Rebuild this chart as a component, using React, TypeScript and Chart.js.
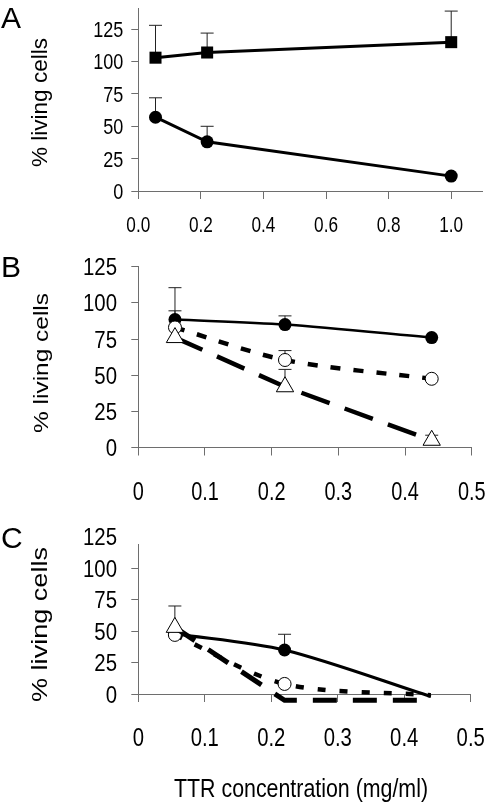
import React, { useEffect, useRef } from 'react';
import { Chart, registerables } from 'chart.js';
Chart.register(...registerables);

const SANS = '"Liberation Sans", Arial, sans-serif';

// ---------- data ----------
// Panel A
const concA = [0.055, 0.22, 1.0];
const aSquares = [103, 107, 115];
const aSquaresErr = [25, 15, 24];
const aCircles = [57, 38, 11.5];
const aCirclesErr = [15, 12, 0];

// Panels B and C share concentrations
const concBC = [0.055, 0.22, 0.44];

// Panel B
const bFilled = [88.5, 85, 76];
const bFilledErr = [22, 6, 0];
const bOpen = [83, 60.5, 47.5];
const bOpenErr = [11.5, 6.5, 0];
const bTri = [76, 42, 5];
const bTriErr = [0, 12, 3.5];

// Panel C
const cFilled = [48, 35, -2];
const cFilledErr = [0, 12.5, 0];
const cOpen = [47, 8, -1];
const cOpenErr = [0, 0, 0];
const cTri = [53, -5, -5];
const cTriErr = [17, 0, 0];

// ticks
const yTicks = [0, 25, 50, 75, 100, 125];
const xTicksA = [0, 0.2, 0.4, 0.6, 0.8, 1.0];
const xTicksBC = [0, 0.1, 0.2, 0.3, 0.4, 0.5];

const yTitle = '% living cells';
const xTitle = 'TTR concentration (mg/ml)';

const AXIS = '#6e6e6e';

const pts = (xs: number[], ys: number[]) => xs.map((x, i) => ({ x, y: ys[i] }));

function drawNarrow(
  ctx: CanvasRenderingContext2D,
  text: string,
  x: number,
  y: number,
  size: number,
  sx: number,
  align: CanvasTextAlign
) {
  ctx.save();
  ctx.translate(x, y);
  ctx.scale(sx, 1);
  ctx.font = `${size}px ${SANS}`;
  ctx.textAlign = align;
  ctx.textBaseline = 'alphabetic';
  ctx.fillStyle = '#000';
  ctx.fillText(text, 0, 0);
  ctx.restore();
}

// text stretched along its own direction to a target length
function drawFitted(
  ctx: CanvasRenderingContext2D,
  text: string,
  cx: number,
  cy: number,
  size: number,
  length: number,
  rotate: boolean,
  baseline: CanvasTextBaseline
) {
  ctx.save();
  ctx.font = `${size}px ${SANS}`;
  const w = ctx.measureText(text).width;
  ctx.translate(cx, cy);
  if (rotate) ctx.rotate(-Math.PI / 2);
  ctx.scale(length / w, 1);
  ctx.textAlign = 'center';
  ctx.textBaseline = baseline;
  ctx.fillStyle = '#000';
  ctx.fillText(text, 0, 0);
  ctx.restore();
}

const errorBarPlugin = {
  id: 'errorBars',
  beforeDatasetsDraw(chart: any) {
    const ctx = chart.ctx;
    const ys = chart.scales.y;
    chart.data.datasets.forEach((ds: any, di: number) => {
      if (!ds.errUp) return;
      const meta = chart.getDatasetMeta(di);
      ds.errUp.forEach((e: number, i: number) => {
        if (!e) return;
        const el = meta.data[i];
        const v = ds.data[i].y;
        const x = el.x;
        const y0 = ys.getPixelForValue(v);
        const y1 = ys.getPixelForValue(v + e);
        ctx.save();
        ctx.strokeStyle = '#222';
        ctx.lineWidth = 1;
        ctx.beginPath();
        ctx.moveTo(x, y0);
        ctx.lineTo(x, y1);
        ctx.moveTo(x - 6.5, y1);
        ctx.lineTo(x + 6.5, y1);
        ctx.stroke();
        ctx.restore();
      });
    });
  },
};

type Panel = {
  area: { left: number; right: number; top: number; bottom: number };
  yMax: number;
  xMax: number;
  xTicks: number[];
  xFmt: (v: number) => string;
  xFont: number;
  xSx: number;
  xBase: number;
  yFont: number;
  ySx: number;
  yRight: number;
  letter: string;
  letterY: number;
  title: { cx: number; cy: number; size: number; len: number };
  showXTitle: boolean;
  datasets: any[];
};

const YW = 60;
const XH = 60;

function makeChart(canvas: HTMLCanvasElement, p: Panel) {
  const textPlugin = {
    id: 'texts' + p.letter,
    afterDraw(chart: any) {
      const ctx = chart.ctx;
      const xs = chart.scales.x;
      const ys = chart.scales.y;
      xs.ticks.forEach((t: any) => {
        drawNarrow(ctx, p.xFmt(t.value), xs.getPixelForValue(t.value), p.xBase, p.xFont, p.xSx, 'center');
      });
      ys.ticks.forEach((t: any) => {
        drawNarrow(ctx, String(t.value), p.yRight, ys.getPixelForValue(t.value) + 0.358 * p.yFont, p.yFont, p.ySx, 'right');
      });
      ctx.save();
      ctx.fillStyle = '#000';
      ctx.font = '30px ' + SANS;
      ctx.textAlign = 'left';
      ctx.textBaseline = 'alphabetic';
      ctx.fillText(p.letter, 1, p.letterY);
      ctx.restore();
      drawFitted(ctx, yTitle, p.title.cx, p.title.cy, p.title.size, p.title.len, true, 'middle');
      if (p.showXTitle) {
        drawFitted(ctx, xTitle, 301, 796.7, 25.6, 254, false, 'alphabetic');
      }
    },
  };

  return new Chart(canvas, {
    type: 'line',
    data: { datasets: p.datasets },
    options: {
      responsive: false,
      animation: false,
      events: [],
      layout: {
        padding: {
          left: p.area.left - YW,
          right: 491 - p.area.right,
          top: p.area.top,
          bottom: 807 - p.area.bottom - XH,
        },
      },
      elements: { line: { capBezierPoints: false } },
      plugins: { legend: { display: false }, tooltip: { enabled: false } },
      scales: {
        x: {
          type: 'linear',
          min: 0,
          max: p.xMax,
          afterBuildTicks: (s: any) => {
            s.ticks = p.xTicks.map((v) => ({ value: v }));
          },
          afterFit: (s: any) => {
            s.height = XH;
            s.paddingLeft = 0;
            s.paddingRight = 0;
            s.paddingTop = 0;
            s.paddingBottom = 0;
          },
          border: { color: AXIS, width: 1 },
          grid: { drawOnChartArea: false, drawTicks: true, tickLength: 8, color: AXIS, tickWidth: 1 },
          ticks: { display: false, autoSkip: false, maxRotation: 0 },
        },
        y: {
          type: 'linear',
          min: 0,
          max: p.yMax,
          afterBuildTicks: (s: any) => {
            s.ticks = yTicks.map((v) => ({ value: v }));
          },
          afterFit: (s: any) => {
            s.width = YW;
            s.paddingLeft = 0;
            s.paddingRight = 0;
            s.paddingTop = 0;
            s.paddingBottom = 0;
          },
          border: { color: AXIS, width: 1 },
          grid: {
            drawOnChartArea: false,
            drawTicks: true,
            tickLength: 7,
            tickWidth: 1,
            color: AXIS,
            tickColor: (c: any) => (c.tick && c.tick.value > p.yMax ? 'rgba(0,0,0,0)' : AXIS),
          },
          ticks: { display: false, autoSkip: false },
        },
      },
    },
    plugins: [errorBarPlugin, textPlugin],
  } as any);
}

const base = { clip: false, borderColor: '#000', pointBorderColor: '#000', borderCapStyle: 'butt' };

const panels: Panel[] = [
  {
    area: { left: 138.3, right: 484, top: 1, bottom: 191 },
    yMax: 141,
    xMax: 1.1,
    xTicks: xTicksA,
    xFmt: (v) => v.toFixed(1),
    xFont: 21.5,
    xSx: 0.8,
    xBase: 231.7,
    yFont: 22,
    ySx: 0.82,
    yRight: 123.3,
    letter: 'A',
    letterY: 28.3,
    title: { cx: 41, cy: 102.5, size: 21.5, len: 129 },
    showXTitle: false,
    datasets: [
      {
        ...base,
        data: pts(concA, aSquares),
        errUp: aSquaresErr,
        borderWidth: 3,
        tension: 0,
        pointStyle: 'rect',
        pointRadius: 8.5,
        pointBackgroundColor: '#000',
        pointBorderWidth: 0,
      },
      {
        ...base,
        data: pts(concA, aCircles),
        errUp: aCirclesErr,
        borderWidth: 3,
        tension: 0,
        pointStyle: 'circle',
        pointRadius: 6.5,
        pointBackgroundColor: '#000',
        pointBorderWidth: 0,
      },
    ],
  },
  {
    area: { left: 138.3, right: 471.7, top: 266.7, bottom: 447.5 },
    yMax: 125,
    xMax: 0.5,
    xTicks: xTicksBC,
    xFmt: (v) => (v === 0 ? '0' : String(v)),
    xFont: 25.5,
    xSx: 0.78,
    xBase: 500,
    yFont: 24,
    ySx: 0.85,
    yRight: 117,
    letter: 'B',
    letterY: 276.7,
    title: { cx: 42, cy: 363, size: 20, len: 140 },
    showXTitle: false,
    datasets: [
      {
        ...base,
        order: 3,
        data: pts(concBC, bFilled),
        errUp: bFilledErr,
        borderWidth: 2.5,
        tension: 0.3,
        pointStyle: 'circle',
        pointRadius: 6.5,
        pointBackgroundColor: '#000',
        pointBorderWidth: 0,
      },
      {
        ...base,
        order: 2,
        data: pts(concBC, bOpen),
        errUp: bOpenErr,
        borderWidth: 4.5,
        borderDash: [10, 13],
        tension: 0.3,
        pointStyle: 'circle',
        pointRadius: 6.5,
        pointBackgroundColor: '#fff',
        pointBorderWidth: 1,
      },
      {
        ...base,
        order: 1,
        data: pts(concBC, bTri),
        errUp: bTriErr,
        borderWidth: 4.5,
        borderDash: [30, 16],
        tension: 0,
        pointStyle: 'triangle',
        pointRadius: 10,
        pointBackgroundColor: '#fff',
        pointBorderWidth: 1,
      },
    ],
  },
  {
    area: { left: 138.3, right: 470.7, top: 544, bottom: 694 },
    yMax: 119.3,
    xMax: 0.5,
    xTicks: xTicksBC,
    xFmt: (v) => (v === 0 ? '0' : String(v)),
    xFont: 26,
    xSx: 0.78,
    xBase: 745.7,
    yFont: 24,
    ySx: 0.85,
    yRight: 117,
    letter: 'C',
    letterY: 547.5,
    title: { cx: 41, cy: 624.5, size: 21.5, len: 155 },
    showXTitle: true,
    datasets: [
      {
        ...base,
        order: 3,
        data: pts(concBC, cFilled),
        errUp: cFilledErr,
        borderWidth: 3,
        tension: 0.3,
        pointStyle: 'circle',
        pointRadius: [6.5, 6.5, 0],
        pointBackgroundColor: '#000',
        pointBorderWidth: 0,
      },
      {
        ...base,
        order: 2,
        data: pts(concBC, cOpen),
        errUp: cOpenErr,
        borderWidth: 4.5,
        borderDash: [8, 14],
        tension: 0.3,
        pointStyle: 'circle',
        pointRadius: [6.5, 6.5, 0],
        pointBackgroundColor: '#fff',
        pointBorderWidth: 1,
      },
      {
        ...base,
        order: 1,
        data: pts(concBC, cTri),
        errUp: cTriErr,
        borderWidth: 5,
        borderDash: [24, 16],
        tension: 0,
        pointStyle: 'triangle',
        pointRadius: [10, 0, 0],
        pointBackgroundColor: '#fff',
        pointBorderWidth: 1,
      },
    ],
  },
];

export default function App() {
  const r0 = useRef<HTMLCanvasElement>(null);
  const r1 = useRef<HTMLCanvasElement>(null);
  const r2 = useRef<HTMLCanvasElement>(null);
  useEffect(() => {
    const refs = [r0, r1, r2];
    const charts = panels.map((p, i) => makeChart(refs[i].current as HTMLCanvasElement, p));
    return () => charts.forEach((c) => c.destroy());
  }, []);
  const cs: React.CSSProperties = { position: 'absolute', left: 0, top: 0, width: 491, height: 807 };
  return (
    <div style={{ position: 'absolute', left: 0, top: 0, width: 491, height: 807, background: '#fff' }}>
      <canvas ref={r0} width={491} height={807} style={cs} />
      <canvas ref={r1} width={491} height={807} style={cs} />
      <canvas ref={r2} width={491} height={807} style={cs} />
    </div>
  );
}
